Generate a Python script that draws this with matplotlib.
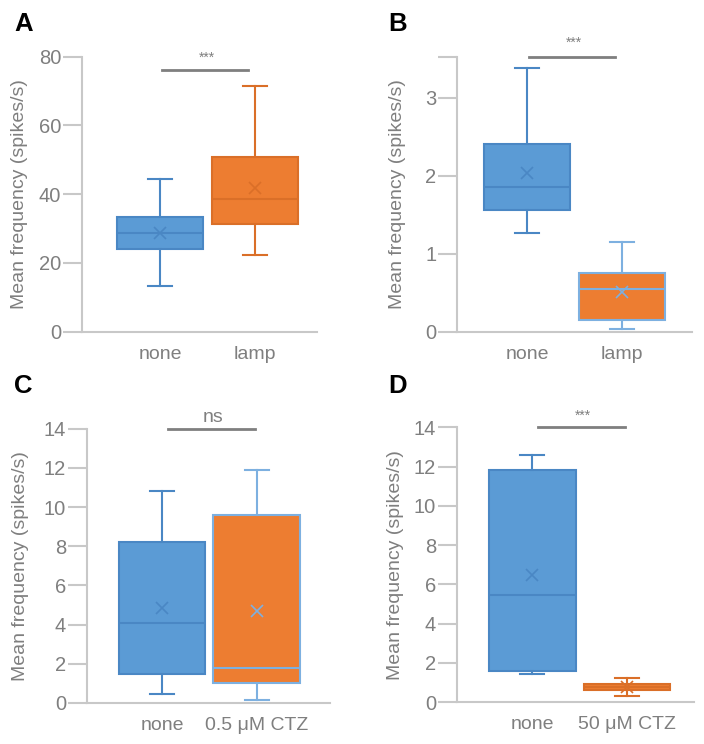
import matplotlib
matplotlib.use("Agg")
import matplotlib.pyplot as plt

plt.rcParams['font.family'] = ['Liberation Sans', 'DejaVu Sans']

# ---- data ----
cats_A = ["none", "lamp"]
cats_B = ["none", "lamp"]
cats_C = ["none", "0.5 μM CTZ"]
cats_D = ["none", "50 μM CTZ"]

# each list: [none, treatment]
A_q1 = [24.0, 31.3]; A_med = [28.6, 38.5]; A_q3 = [33.4, 50.9]
A_lo = [13.4, 22.3]; A_hi = [44.3, 71.4]; A_mean = [28.8, 41.9]

B_q1 = [1.56, 0.15]; B_med = [1.86, 0.55]; B_q3 = [2.41, 0.75]
B_lo = [1.26, 0.04]; B_hi = [3.38, 1.15]; B_mean = [2.03, 0.51]

C_q1 = [1.5, 1.0]; C_med = [4.1, 1.8]; C_q3 = [8.2, 9.6]
C_lo = [0.45, 0.14]; C_hi = [10.8, 11.9]; C_mean = [4.85, 4.7]

D_q1 = [1.6, 0.63]; D_med = [5.45, 0.76]; D_q3 = [11.8, 0.9]
D_lo = [1.41, 0.31]; D_hi = [12.6, 1.2]; D_mean = [6.45, 0.76]

sig_A = "***"; sig_B = "***"; sig_C = "ns"; sig_D = "***"

BLUE = '#5B9BD5'; BLUE_E = '#4A87C4'
ORANGE = '#ED7D31'; ORANGE_E = '#DA6F28'
LBLUE_E = '#7DB0E0'
GRAY = '#7F7F7F'; AXC = '#C8C8C8'

W, H = 704, 744
fig = plt.figure(figsize=(W / 100, H / 100), dpi=100)


def ax_at(l, r, t, b):
    return fig.add_axes([l / W, 1 - b / H, (r - l) / W, (b - t) / H])


def panel(ax, cats, q1, med, q3, lo, hi, mean, ylim, yticks, ylabels, xlim,
          edges, sig, sigy, sigx, sigty, sigfs, letter, letterxy, labx, axl, axw):
    stats = []
    for i in range(len(cats)):
        stats.append(dict(q1=q1[i], med=med[i], q3=q3[i], whislo=lo[i],
                          whishi=hi[i], mean=mean[i], fliers=[]))
    r = ax.bxp(stats, positions=[1, 2], widths=0.915, patch_artist=True,
               showmeans=True, capwidths=0.26, showfliers=False,
               manage_ticks=False)
    fills = [BLUE, ORANGE]
    for i in range(2):
        ec = edges[i]
        r['boxes'][i].set(facecolor=fills[i], edgecolor=ec, linewidth=1.5)
        r['medians'][i].set(color=ec, linewidth=1.5)
        for w in r['whiskers'][2 * i:2 * i + 2]:
            w.set(color=ec, linewidth=1.5)
        for c in r['caps'][2 * i:2 * i + 2]:
            c.set(color=ec, linewidth=1.5)
        r['means'][i].set(marker='x', markeredgecolor=ec, markerfacecolor=ec,
                          markersize=8, markeredgewidth=1.2)
    ax.set_xlim(*xlim)
    ax.set_ylim(*ylim)
    ax.set_yticks(yticks)
    ax.set_yticklabels(ylabels)
    ax.set_xticks([1, 2])
    ax.set_xticklabels(cats)
    for s in ['top', 'right']:
        ax.spines[s].set_visible(False)
    for s in ['left', 'bottom']:
        ax.spines[s].set_color(AXC)
        ax.spines[s].set_linewidth(1.5)
    ax.tick_params(axis='y', length=14, width=1.5, color=AXC, labelcolor=GRAY,
                   labelsize=14.5, pad=1)
    ax.tick_params(axis='x', length=0, labelcolor=GRAY, labelsize=14, pad=10)
    ax.set_ylabel("Mean frequency (spikes/s)", color=GRAY, fontsize=14,
                  va='center')
    ax.yaxis.set_label_coords((labx - axl) / axw, 0.5)
    ax.plot(sigx, [sigy, sigy], color=GRAY, linewidth=2, clip_on=False)
    ax.text((sigx[0] + sigx[1]) / 2 + 0.02, sigty, sig, color=GRAY,
            fontsize=sigfs, ha='center', va='center', clip_on=False)
    fig.text(letterxy[0] / W, 1 - letterxy[1] / H, letter, fontsize=18.5,
             fontweight='bold', color='black', ha='left', va='center')


axA = ax_at(82, 317, 56.7, 331.7)
panel(axA, cats_A, A_q1, A_med, A_q3, A_lo, A_hi, A_mean,
      (0, 80), [0, 20, 40, 60, 80], ['0', '20', '40', '60', '80'],
      (0.179, 2.653), [BLUE_E, ORANGE_E], sig_A, 76, [1.02, 1.93], 79.8, 10,
      'A', (14, 24), 20, 82, 235)

axB = ax_at(457, 692, 56.7, 331.7)
panel(axB, cats_B, B_q1, B_med, B_q3, B_lo, B_hi, B_mean,
      (0, 3.526), [0, 1, 2, 3, 3.526], ['0', '1', '2', '3', ''],
      (0.263, 2.737), [BLUE_E, LBLUE_E], sig_B, 3.52, [1.02, 1.93], 3.70, 10,
      'B', (388, 24), 397, 457, 235)

axC = ax_at(87, 330, 428.7, 703)
panel(axC, cats_C, C_q1, C_med, C_q3, C_lo, C_hi, C_mean,
      (0, 14), [0, 2, 4, 6, 8, 10, 12, 14],
      ['0', '2', '4', '6', '8', '10', '12', '14'],
      (0.21, 2.77), [BLUE_E, LBLUE_E], sig_C, 14.0, [1.06, 1.98], 14.55, 14,
      'C', (14, 386), 21, 87, 243)

axD = ax_at(457, 694, 427.3, 702)
panel(axD, cats_D, D_q1, D_med, D_q3, D_lo, D_hi, D_mean,
      (0, 14), [0, 2, 4, 6, 8, 10, 12, 14],
      ['0', '2', '4', '6', '8', '10', '12', '14'],
      (0.21, 2.705), [BLUE_E, ORANGE_E], sig_D, 14.0, [1.06, 1.98], 14.6, 10,
      'D', (388, 386), 396, 457, 237)

fig.savefig("out.png", dpi=100, facecolor='white')
